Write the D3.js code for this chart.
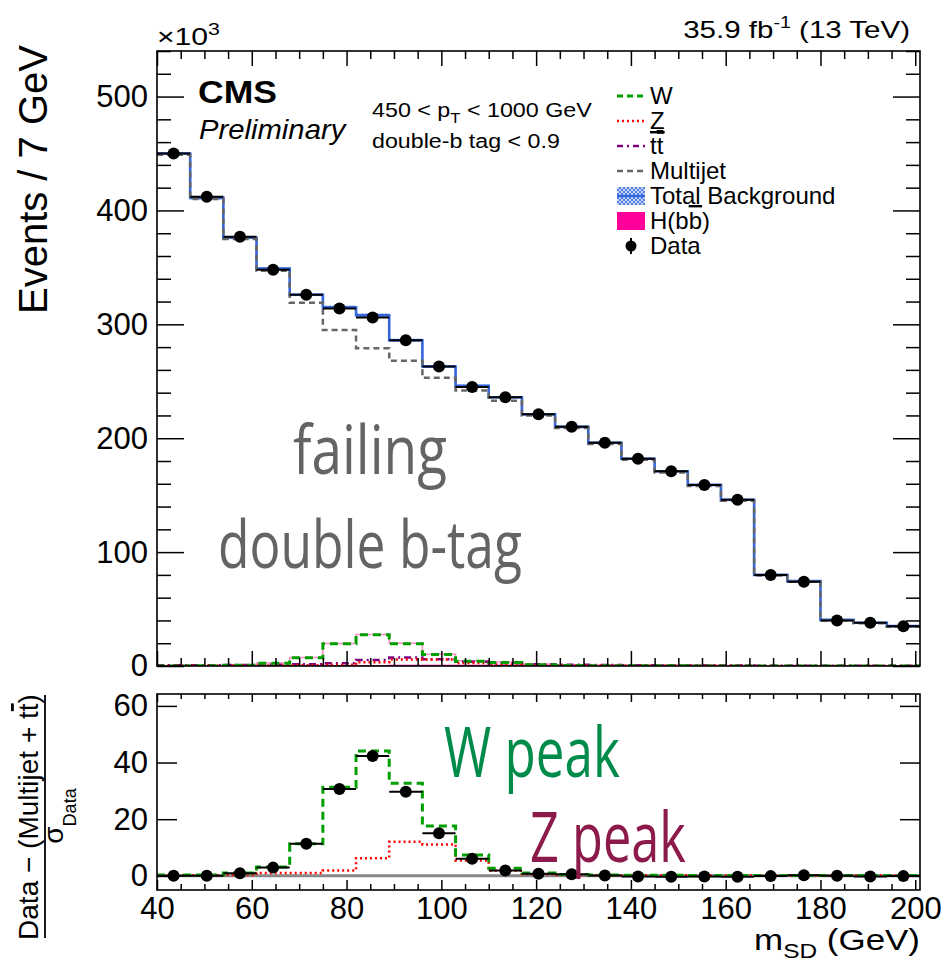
<!DOCTYPE html>
<html>
<head>
<meta charset="utf-8">
<script src="https://cdn.jsdelivr.net/npm/d3@7"></script>
<style>
  body { margin: 0; background: #fff; }
  svg { display: block; font-family: "Liberation Sans", Arial, Helvetica, sans-serif; }
</style>
</head>
<body>
<div id="chart"></div>
<script>
// m_SD bins (GeV), 7 GeV wide
const binEdges = [40, 47, 54, 61, 68, 75, 82, 89, 96, 103, 110, 117, 124, 131, 138, 145, 152, 159, 166, 173, 180, 187, 194, 201];

// upper panel, events x 10^3
const dataTop = [450, 412, 377, 348, 326, 314, 306, 286, 263, 245, 236, 221, 210, 196, 182, 171, 159, 146, 80, 74, 40, 38, 35];
const totalBkg = [450, 411, 376, 349, 326, 315, 308, 286, 263, 246, 236, 221, 210, 196, 182, 171, 159, 146, 80, 74.5, 40.5, 38, 35];
const totalUnc = [1.2, 1.2, 1.1, 1.1, 1.2, 1.4, 1.5, 1.4, 1.2, 1.1, 1.0, 1.0, 1.0, 0.9, 0.9, 0.9, 0.8, 0.8, 0.6, 0.6, 0.5, 0.5, 0.5];
const multijet = [449, 410, 375, 347, 319, 295, 279, 268, 253, 242, 233, 220, 209, 195, 181, 170, 158, 145, 79.5, 74, 40, 37.5, 34.5];
const wJets = [0.1, 0.2, 0.7, 2.5, 7.2, 19.5, 27.4, 19.5, 10.0, 4.2, 3.0, 1.2, 0.5, 0.3, 0.2, 0.2, 0.1, 0.1, 0.1, 0.1, 0.1, 0.1, 0.1];
const zJets = [0.3, 0.3, 0.4, 0.5, 0.7, 1.2, 3.4, 5.7, 5.6, 2.7, 1.0, 0.5, 0.4, 0.3, 0.3, 0.2, 0.2, 0.2, 0.1, 0.1, 0.1, 0.1, 0.1];
const ttbar = [0.6, 0.7, 0.8, 1.0, 1.5, 2.5, 5.3, 7.5, 6.0, 3.8, 2.5, 1.5, 1.0, 0.8, 0.6, 0.5, 0.4, 0.4, 0.3, 0.3, 0.2, 0.2, 0.2];
const hbb = [0.1, 0.1, 0.2, 0.2, 0.2, 0.3, 0.3, 0.4, 0.4, 0.5, 0.5, 0.6, 0.6, 0.5, 0.5, 0.4, 0.4, 0.3, 0.2, 0.2, 0.2, 0.1, 0.1];

// lower panel, (Data - (Multijet + ttbar)) / sigma_Data
const ratioData = [0.0, 0.0, 0.9, 2.9, 11.3, 30.7, 42.3, 29.7, 15.0, 6.0, 1.9, 0.7, 0.6, 0.1, -0.2, -0.3, -0.2, -0.3, -0.1, 0.2, 0.0, -0.2, -0.1];
const ratioW = [0.3, 0.3, 1.0, 3.1, 11.3, 31.3, 44.1, 32.7, 17.6, 7.4, 2.7, 1.0, 0.5, 0.3, 0.2, 0.2, 0.1, 0.1, 0.1, 0.1, 0.1, 0.1, 0.1];
const ratioZ = [0.2, 0.2, 0.3, 1.0, 1.0, 1.9, 6.2, 12.0, 11.1, 5.4, 1.8, 0.6, 0.3, 0.2, 0.2, 0.2, 0.1, 0.1, 0.1, 0.1, 0.1, 0.1, 0.1];

// ticks
const xMajor = [40, 60, 80, 100, 120, 140, 160, 180, 200];
const yTopMajor = [0, 100, 200, 300, 400, 500];
const yBotMajor = [0, 20, 40, 60];

const legendItems = ['W', 'Z', 'tt', 'Multijet', 'Total Background', 'H(bb)', 'Data'];

const width = 943;
const height = 963;

const x = d3.scaleLinear().domain([40, 201]).range([157, 920]);
const yTop = d3.scaleLinear().domain([0, 540]).range([666, 51]);
const yBot = d3.scaleLinear().domain([-5, 64.2]).range([890, 694]);

const svg = d3.select('#chart').append('svg').attr('width', width).attr('height', height);
const defs = svg.append('defs');

defs.append('clipPath').attr('id', 'clipTop')
  .append('rect').attr('x', 157).attr('y', 51).attr('width', 763).attr('height', 615);
defs.append('clipPath').attr('id', 'clipBot')
  .append('rect').attr('x', 157).attr('y', 694).attr('width', 763).attr('height', 196);

const hatch = defs.append('pattern').attr('id', 'hatch')
  .attr('width', 4).attr('height', 4).attr('patternUnits', 'userSpaceOnUse');
hatch.append('rect').attr('width', 4).attr('height', 4).attr('fill', '#c9d6f5');
hatch.append('path').attr('d', 'M0,4 L4,0 M0,0 L4,4').attr('stroke', '#3366dd').attr('stroke-width', 0.8);

function stepPts(vals) {
  const pts = vals.map((v, i) => [binEdges[i], v]);
  pts.push([binEdges[vals.length], vals[vals.length - 1]]);
  return pts;
}
const lineTop = d3.line().x((d) => x(d[0])).y((d) => yTop(d[1])).curve(d3.curveStepAfter);
const lineBot = d3.line().x((d) => x(d[0])).y((d) => yBot(d[1])).curve(d3.curveStepAfter);

function stepPath(g, line, vals, color, width, dash) {
  g.append('path')
    .attr('d', line(stepPts(vals)))
    .attr('fill', 'none')
    .attr('stroke', color)
    .attr('stroke-width', width)
    .attr('stroke-dasharray', dash || null);
}

function drawData(g, y, vals) {
  const pts = vals.map((v, i) => ({ lo: binEdges[i], hi: binEdges[i + 1], v }));
  g.selectAll('line.xerr').data(pts).join('line').attr('class', 'xerr')
    .attr('x1', (d) => x(d.lo)).attr('x2', (d) => x(d.hi))
    .attr('y1', (d) => y(d.v)).attr('y2', (d) => y(d.v))
    .attr('stroke', '#000').attr('stroke-width', 2);
  g.selectAll('circle').data(pts).join('circle')
    .attr('cx', (d) => x((d.lo + d.hi) / 2)).attr('cy', (d) => y(d.v))
    .attr('r', 6).attr('fill', '#000');
}

// ---- upper panel
const upper = svg.append('g').attr('clip-path', 'url(#clipTop)');
const pinkTrace = wJets.map((w, i) => w + hbb[i]);
stepPath(upper, lineTop, hbb, '#ff0099', 1.5);
stepPath(upper, lineTop, pinkTrace, '#ff8cc6', 1.5);
stepPath(upper, lineTop, ttbar, '#800080', 2.5, '7,4,2,4');
stepPath(upper, lineTop, zJets, '#ff0000', 2.5, '2,3');
stepPath(upper, lineTop, wJets, '#00a000', 3, '8,5');

upper.selectAll('rect.band').data(totalBkg).join('rect').attr('class', 'band')
  .attr('x', (d, i) => x(binEdges[i]))
  .attr('width', (d, i) => x(binEdges[i + 1]) - x(binEdges[i]))
  .attr('y', (d, i) => yTop(d + totalUnc[i]))
  .attr('height', (d, i) => yTop(d - totalUnc[i]) - yTop(d + totalUnc[i]))
  .attr('fill', 'url(#hatch)');
stepPath(upper, lineTop, totalBkg, '#3366dd', 2.6);
stepPath(upper, lineTop, multijet, '#666666', 2.5, '6,4');
drawData(upper.append('g'), yTop, dataTop);

// ---- lower panel
const lower = svg.append('g').attr('clip-path', 'url(#clipBot)');
lower.append('line')
  .attr('x1', x(40)).attr('x2', x(201)).attr('y1', yBot(0)).attr('y2', yBot(0))
  .attr('stroke', '#888').attr('stroke-width', 3);
stepPath(lower, lineBot, ratioZ, '#ff0000', 2.5, '2,3');
stepPath(lower, lineBot, ratioW, '#00a000', 3, '8,5');
drawData(lower.append('g'), yBot, ratioData);

// ---- axes and frames
const tickFont = 31;
function ticks(tx, ty, axisFn, scale, vals, size, labels) {
  const a = axisFn(scale).tickValues(vals).tickSize(size).tickPadding(9);
  if (!labels) a.tickFormat('');
  const g = svg.append('g').attr('transform', `translate(${tx},${ty})`).call(a);
  g.select('.domain').remove();
  g.selectAll('.tick line').attr('stroke', '#000').attr('stroke-width', 1.5);
  g.attr('font-size', tickFont).attr('font-family', null);
  g.selectAll('.tick text').attr('fill', '#000');
  return g;
}
const xMinor = d3.range(40, 201, 5).filter((v) => !xMajor.includes(v));
const yTopMinor = d3.range(20, 541, 20).filter((v) => v % 100);

// upper panel ticks
ticks(157, 0, d3.axisLeft, yTop, yTopMajor, -27, true);
ticks(157, 0, d3.axisLeft, yTop, yTopMinor, -14, false);
ticks(920, 0, d3.axisRight, yTop, yTopMajor, -27, false);
ticks(920, 0, d3.axisRight, yTop, yTopMinor, -14, false);
ticks(0, 666, d3.axisBottom, x, xMajor, -15, false);
ticks(0, 666, d3.axisBottom, x, xMinor, -8, false);
ticks(0, 51, d3.axisTop, x, xMajor, -15, false);
ticks(0, 51, d3.axisTop, x, xMinor, -8, false);

// lower panel ticks
ticks(157, 0, d3.axisLeft, yBot, yBotMajor, -20, true);
ticks(920, 0, d3.axisRight, yBot, yBotMajor, -20, false);
const xb = ticks(0, 890, d3.axisBottom, x, xMajor, -10, true);
xb.selectAll('.tick text').attr('y', 7);
ticks(0, 890, d3.axisBottom, x, xMinor, -6, false);
ticks(0, 694, d3.axisTop, x, xMajor, -8, false);
ticks(0, 694, d3.axisTop, x, xMinor, -5, false);

svg.append('rect').attr('x', 157).attr('y', 51).attr('width', 763).attr('height', 615)
  .attr('fill', 'none').attr('stroke', '#000').attr('stroke-width', 1.6);
svg.append('rect').attr('x', 157).attr('y', 694).attr('width', 763).attr('height', 196)
  .attr('fill', 'none').attr('stroke', '#000').attr('stroke-width', 1.6);

// ---- text helpers
function fitWidth(t, w) {
  const bw = t.node().getBBox().width;
  const ax = +t.attr('x');
  t.attr('transform', `translate(${ax},0) scale(${w / bw},1) translate(${-ax},0)`);
  return t;
}
function text(px, py, size, anchor) {
  return svg.append('text').attr('x', px).attr('y', py)
    .attr('font-size', size).attr('text-anchor', anchor || 'start').attr('fill', '#000');
}

// lumi and exponent
const lumi = text(910, 38, 24, 'end');
lumi.append('tspan').text('35.9 fb');
lumi.append('tspan').attr('font-size', 16).attr('dy', -10).text('-1');
lumi.append('tspan').attr('dy', 10).text(' (13 TeV)');
fitWidth(lumi, 227);

const expo = text(157, 45, 24);
expo.append('tspan').text('\u00d710');
expo.append('tspan').attr('font-size', 17).attr('dy', -10).text('3');
fitWidth(expo, 63);

// CMS label
fitWidth(text(198, 103, 31).attr('font-weight', 'bold').text('CMS'), 79);
fitWidth(text(199, 139, 27).attr('font-style', 'italic').text('Preliminary'), 148);

const pt = text(372, 117, 21);
pt.append('tspan').text('450 < p');
pt.append('tspan').attr('font-size', 15).attr('dy', 6).text('T');
pt.append('tspan').attr('dy', -6).text(' < 1000 GeV');
fitWidth(pt, 220);
fitWidth(text(372, 148, 21).text('double-b tag < 0.9'), 188);

// ---- legend
const legend = svg.append('g');
const legY = (i) => 96 + 25 * i;
const lx0 = 617;
const lx1 = 645;
const legLines = [
  { color: '#00a000', w: 3, dash: '6,4' },
  { color: '#ff0000', w: 2.5, dash: '2,3' },
  { color: '#800080', w: 2.5, dash: '6,4,2,4' },
  { color: '#666666', w: 2.5, dash: '6,4' },
];
legLines.forEach((s, i) => {
  legend.append('line').attr('x1', lx0).attr('x2', lx1).attr('y1', legY(i)).attr('y2', legY(i))
    .attr('stroke', s.color).attr('stroke-width', s.w).attr('stroke-dasharray', s.dash);
});
legend.append('rect').attr('x', lx0).attr('y', legY(4) - 9).attr('width', lx1 - lx0).attr('height', 18)
  .attr('fill', 'url(#hatch)');
legend.append('line').attr('x1', lx0).attr('x2', lx1).attr('y1', legY(4)).attr('y2', legY(4))
  .attr('stroke', '#3366dd').attr('stroke-width', 2.5);
legend.append('rect').attr('x', lx0).attr('y', legY(5) - 9).attr('width', lx1 - lx0).attr('height', 18)
  .attr('fill', '#ff0099');
legend.append('line').attr('x1', 631).attr('x2', 631).attr('y1', legY(6) - 8).attr('y2', legY(6) + 8)
  .attr('stroke', '#000').attr('stroke-width', 2);
legend.append('circle').attr('cx', 631).attr('cy', legY(6)).attr('r', 5.5).attr('fill', '#000');

legendItems.forEach((name, i) => {
  const t = legend.append('text').attr('x', 650).attr('y', legY(i) + 8).attr('font-size', 24);
  if (name === 'Z') {
    t.append('tspan').attr('text-decoration', 'underline').text('Z');
  } else if (name === 'tt') {
    t.append('tspan').text('t');
    t.append('tspan').attr('text-decoration', 'overline').text('t');
  } else if (name === 'H(bb)') {
    t.append('tspan').text('H(b');
    t.append('tspan').attr('text-decoration', 'overline').text('b');
    t.append('tspan').text(')');
  } else {
    t.text(name);
  }
});
// bar of the anti-top in the legend
legend.append('line').attr('x1', 657).attr('x2', 664).attr('y1', legY(2) - 13).attr('y2', legY(2) - 13)
  .attr('stroke', '#000').attr('stroke-width', 1.5);

// ---- axis titles
svg.append('text').attr('transform', 'translate(47,45) rotate(-90)')
  .attr('text-anchor', 'end').attr('font-size', 40).text('Events / 7 GeV');

const num = svg.append('text').attr('transform', 'translate(38,817) rotate(-90)')
  .attr('text-anchor', 'middle').attr('font-size', 28);
num.append('tspan').text('Data \u2212 (Multijet + t');
num.append('tspan').attr('text-decoration', 'overline').text('t');
num.append('tspan').text(')');
svg.append('line').attr('x1', 45).attr('x2', 45).attr('y1', 695).attr('y2', 938)
  .attr('stroke', '#000').attr('stroke-width', 1.8);
const den = svg.append('text').attr('transform', 'translate(63,816) rotate(-90)')
  .attr('text-anchor', 'middle').attr('font-size', 28);
den.append('tspan').text('\u03c3');
den.append('tspan').attr('font-size', 18).attr('dy', 13).text('Data');

const xt = text(920, 950, 30, 'end');
xt.append('tspan').text('m');
xt.append('tspan').attr('font-size', 21).attr('dy', 8).text('SD');
xt.append('tspan').attr('dy', -8).text(' (GeV)');
fitWidth(xt, 166);

// ---- annotations
const annoFont = '"Open Sans", "Noto Sans", sans-serif';
function anno(px, py, size, color, label, w) {
  const t = text(px, py, size).attr('font-family', annoFont).attr('font-weight', 500)
    .attr('fill', color).text(label);
  fitWidth(t, w);
}
anno(293, 474, 68, '#646464', 'failing', 154);
anno(218, 568, 66, '#646464', 'double b-tag', 304);
anno(444, 777, 70, '#008b4a', 'W peak', 176);
anno(530, 862, 70, '#8c1a4b', 'Z peak', 156);
</script>
</body>
</html>
